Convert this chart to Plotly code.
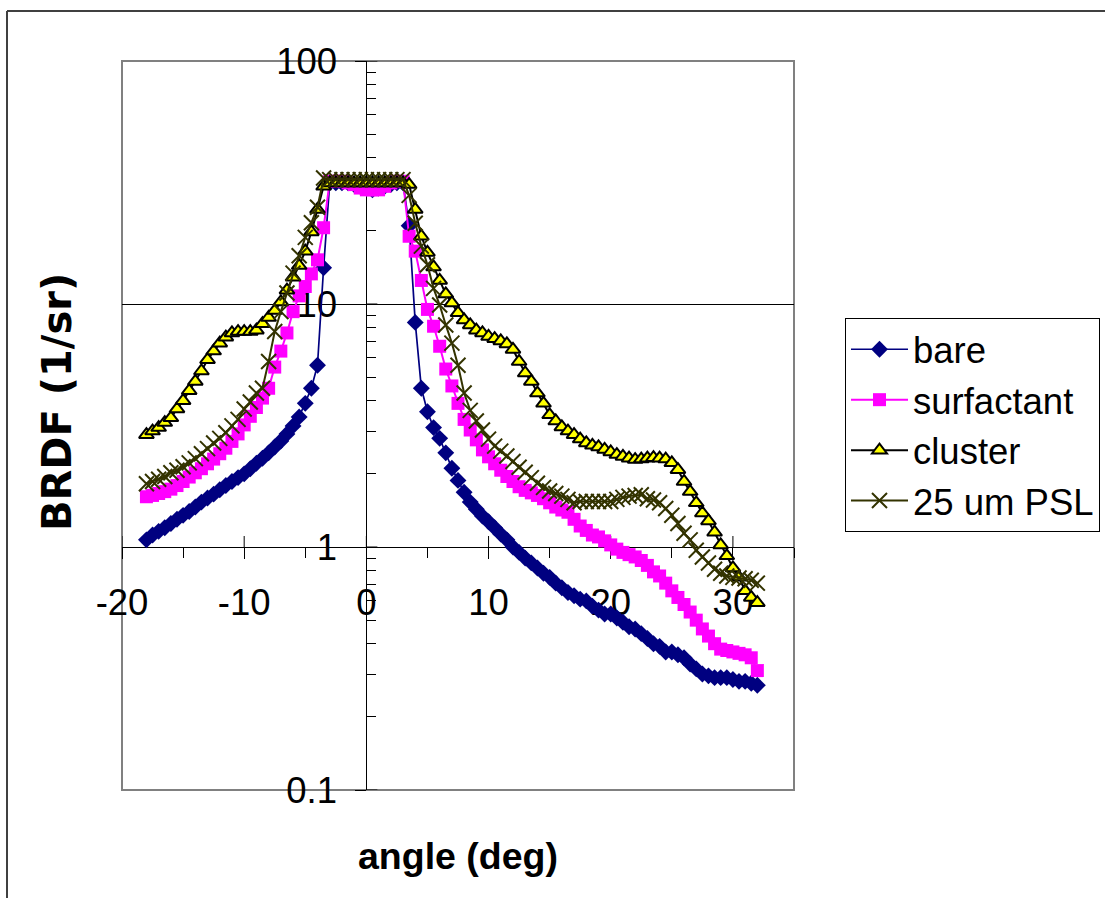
import plotly.graph_objects as go

# ---------------- data ----------------
angle = [-18.0, -17.5, -17.0, -16.5, -16.0, -15.5, -15.0, -14.5, -14.0, -13.5,
         -13.0, -12.5, -12.0, -11.5, -11.0, -10.5, -10.0, -9.5, -9.0, -8.5,
         -8.0, -7.5, -7.0, -6.5, -6.0, -5.5, -5.0, -4.5, -4.0, -3.5,
         -3.0, -2.5, -2.0, -1.5, -1.0, -0.5, 0.0, 0.5, 1.0, 1.5, 2.0, 2.5, 3.0,
         3.5, 4.0, 4.5, 5.0, 5.5, 6.0, 6.5, 7.0, 7.5, 8.0,
         8.5, 9.0, 9.5, 10.0, 10.5, 11.0, 11.5, 12.0, 12.5, 13.0,
         13.5, 14.0, 14.5, 15.0, 15.5, 16.0, 16.5, 17.0, 17.5, 18.0,
         18.5, 19.0, 19.5, 20.0, 20.5, 21.0, 21.5, 22.0, 22.5, 23.0,
         23.5, 24.0, 24.5, 25.0, 25.5, 26.0, 26.5, 27.0, 27.5, 28.0,
         28.5, 29.0, 29.5, 30.0, 30.5, 31.0, 31.5, 32.0]

bare = [1.07, 1.12, 1.16, 1.2, 1.25, 1.30, 1.35, 1.40, 1.46, 1.53,
        1.59, 1.65, 1.72, 1.79, 1.86, 1.93, 2.0, 2.1, 2.21, 2.32,
        2.44, 2.58, 2.73, 2.92, 3.15, 3.43, 3.9, 4.5, 5.6, 14.1,
        31.5, 31.5, 31.5, 31.5, 31, 30.5, 30, 29.5, 30, 30.5, 31, 31.5, 31.5,
        21, 8.4, 4.5, 3.6, 3.1, 2.8, 2.44, 2.11, 1.88, 1.68,
        1.53, 1.43, 1.34, 1.27, 1.2, 1.13, 1.07, 1.0, 0.95, 0.9,
        0.86, 0.82, 0.78, 0.75, 0.71, 0.68, 0.65, 0.63, 0.61, 0.60,
        0.57, 0.55, 0.53, 0.53, 0.51, 0.49, 0.47, 0.46, 0.44, 0.42,
        0.40, 0.39, 0.37, 0.37, 0.36, 0.35, 0.33, 0.315, 0.30, 0.295,
        0.29, 0.29, 0.29, 0.285, 0.28, 0.28, 0.275, 0.27]

surfactant = [1.61, 1.63, 1.66, 1.69, 1.73, 1.79, 1.86, 1.94, 2.02, 2.1,
              2.2, 2.3, 2.42, 2.55, 2.72, 2.92, 3.18, 3.45, 3.75, 4.1,
              4.5, 5.5, 6.4, 7.6, 9.3, 10.8, 11.8, 13.3, 15.2, 20.6,
              32, 32, 32, 31.5, 31, 30, 29.5, 29.5, 29.5, 30.5, 31.5, 32, 32,
              19, 16.5, 12.5, 9.5, 8.1, 6.7, 5.4, 4.6, 3.9, 3.35,
              3.03, 2.76, 2.51, 2.35, 2.2, 2.07, 1.95, 1.86, 1.77, 1.71,
              1.67, 1.63, 1.58, 1.52, 1.46, 1.42, 1.39, 1.30, 1.22, 1.17,
              1.12, 1.10, 1.06, 1.02, 0.98, 0.95, 0.93, 0.91, 0.88, 0.84,
              0.79, 0.76, 0.71, 0.66, 0.62, 0.58, 0.54, 0.50, 0.46, 0.43,
              0.40, 0.38, 0.375, 0.37, 0.365, 0.36, 0.35, 0.31]

cluster = [2.9, 3.0, 3.1, 3.25, 3.4, 3.7, 4.0, 4.4, 4.8, 5.3,
           5.9, 6.4, 6.9, 7.3, 7.6, 7.7, 7.7, 7.7, 7.8, 8.3,
           8.8, 9.4, 10.2, 11.4, 12.9, 14.4, 16.5, 19.8, 24.5, 30.5,
           31.5, 31.5, 31.5, 31.5, 31.5, 31.5, 31.5, 31.5, 31.5, 31.5, 31.5, 31.5, 31.5,
           31, 24.5, 19, 16.3, 14.2, 12.5, 11.0, 10.1, 9.2, 8.6,
           8.2, 7.8, 7.6, 7.35, 7.2, 7.05, 6.85, 6.5, 5.8, 5.2,
           4.8, 4.3, 3.9, 3.5, 3.3, 3.12, 3.0, 2.9, 2.78, 2.68,
           2.62, 2.58, 2.52, 2.46, 2.4, 2.36, 2.32, 2.29, 2.3, 2.32,
           2.33, 2.32, 2.3, 2.22, 2.08, 1.86, 1.69, 1.52, 1.38, 1.28,
           1.15, 1.02, 0.92, 0.82, 0.75, 0.66, 0.62, 0.59]

psl = [1.82, 1.86, 1.9, 1.95, 2.02, 2.07, 2.14, 2.22, 2.31, 2.42,
       2.54, 2.68, 2.8, 2.95, 3.15, 3.35, 3.7, 3.95, 4.3, 4.5,
       5.8, 7.7, 9.3, 11.1, 13.4, 15.8, 18.8, 21.6, 25, 33,
       32.5, 32.5, 32.5, 32.5, 32.5, 32.5, 32.5, 32.5, 32.5, 32.5, 32.5, 32.5, 32.5,
       28, 21.5, 17.3, 14.5, 11.6, 9.9, 8.2, 6.9, 5.6, 4.3,
       3.65, 3.3, 3.03, 2.78, 2.6, 2.48, 2.37, 2.25, 2.13, 2.03,
       1.93, 1.83, 1.76, 1.7, 1.66, 1.62, 1.57, 1.52, 1.54, 1.54,
       1.54, 1.54, 1.54, 1.54, 1.57, 1.6, 1.62, 1.63, 1.64, 1.58,
       1.56, 1.52, 1.44, 1.35, 1.25, 1.14, 1.07, 0.97, 0.91, 0.86,
       0.81, 0.78, 0.76, 0.75, 0.745, 0.74, 0.73, 0.71]

series_names = ["bare", "surfactant", "cluster", "25 um PSL"]

x_major = [-20, -10, 0, 10, 20, 30]
x_minor = [-15, -5, 5, 15, 25, 35]
y_major = [0.1, 1, 10, 100]
y_major_text = ["0.1", "1", "10", "100"]
y_minor = [0.2, 0.3, 0.4, 0.5, 0.6, 0.7, 0.8, 0.9,
           2, 3, 4, 5, 6, 7, 8, 9,
           20, 30, 40, 50, 60, 70, 80, 90]

# ---------------- layout geometry (pixels) ----------------
W, H = 1105, 898
ML, MR, MT, MB = 122, 311, 61, 108
PW, PH = W - ML - MR, H - MT - MB


def px_x(p):
    return (p - ML) / PW


def px_y(p):
    return (H - MB - p) / PH


FONT = "Liberation Sans, Arial, sans-serif"
FS_TICK = 36.5
FS_TITLE = 37.5
FS_LEG = 36.5

fig = go.Figure()

fig.add_trace(go.Scatter(
    x=angle, y=bare, name=series_names[0], mode="lines+markers", legendgroup="g1",
    line=dict(color="#000080", width=1.7),
    marker=dict(symbol="diamond", size=13, color="#000080")))
fig.add_trace(go.Scatter(
    x=angle, y=surfactant, name=series_names[1], mode="lines+markers", legendgroup="g2",
    line=dict(color="#FF00FF", width=2),
    marker=dict(symbol="square", size=13, color="#FF00FF")))
fig.add_trace(go.Scatter(
    x=angle, y=cluster, name=series_names[2], mode="lines+markers", legendgroup="g3",
    line=dict(color="#000000", width=2),
    marker=dict(symbol="triangle-up", size=13, color="#FFFF00",
                line=dict(color="#000000", width=2))))
fig.add_trace(go.Scatter(
    x=angle, y=psl, name=series_names[3], mode="lines+markers", legendgroup="g4",
    line=dict(color="#333300", width=2),
    marker=dict(symbol="x-thin", size=15, color="#333300",
                line=dict(color="#333300", width=2))))

axis_col = "#000000"

fig.update_xaxes(
    range=[-20, 35], anchor="free", position=1 / 3,
    showline=True, linecolor=axis_col, linewidth=1, layer="below traces",
    tickmode="array", tickvals=x_major, ticktext=[str(v) for v in x_major],
    ticks="outside", ticklen=11, tickwidth=1, tickcolor=axis_col,
    tickfont=dict(family=FONT, size=FS_TICK, color="#000"),
    ticklabelstandoff=12,
    minor=dict(tickmode="array", tickvals=x_minor, ticks="outside",
               ticklen=10, tickwidth=1, tickcolor=axis_col, showgrid=False),
    showgrid=False, zeroline=False, fixedrange=True)

fig.update_yaxes(
    type="log", range=[-1, 2], anchor="free", position=20 / 55,
    showline=True, linecolor=axis_col, linewidth=1, layer="below traces",
    tickmode="array", tickvals=y_major, ticktext=y_major_text,
    ticks="outside", ticklen=11, tickwidth=1, tickcolor=axis_col,
    tickfont=dict(family=FONT, size=FS_TICK, color="#000"),
    ticklabelstandoff=11,
    minor=dict(tickmode="array", tickvals=y_minor, ticks="inside",
               ticklen=9, tickwidth=1, tickcolor=axis_col, showgrid=False),
    showgrid=True, gridcolor="#000000", gridwidth=1, zeroline=False, fixedrange=True)

shapes = []
# inner halves of the crossing major ticks
for v in x_major:
    shapes.append(dict(type="line", xref="x", yref="y", ysizemode="pixel", yanchor=1,
                       x0=v, x1=v, y0=0, y1=11, line=dict(color=axis_col, width=1),
                       layer="between"))
for v in y_major:
    shapes.append(dict(type="line", xref="x", yref="y", xsizemode="pixel", xanchor=0,
                       x0=0, x1=11, y0=v, y1=v, line=dict(color=axis_col, width=1),
                       layer="between"))
# plot-area frame
shapes.append(dict(type="rect", xref="paper", yref="paper", x0=0, x1=1, y0=0, y1=1,
                   line=dict(color="#808080", width=2), layer="between"))
# outer chart border (left and top edges visible)
shapes.append(dict(type="line", xref="paper", yref="paper",
                   x0=px_x(7), x1=px_x(7), y0=px_y(11), y1=px_y(910),
                   line=dict(color="#404040", width=2)))
shapes.append(dict(type="line", xref="paper", yref="paper",
                   x0=px_x(7), x1=px_x(1120), y0=px_y(11), y1=px_y(11),
                   line=dict(color="#404040", width=2)))

annotations = [
    dict(text="<b>angle (deg)</b>", xref="paper", yref="paper", x=0.5, y=px_y(856),
         xanchor="center", yanchor="middle", showarrow=False,
         font=dict(family=FONT, size=FS_TITLE, color="#000")),
    dict(text="<b>BRDF (1/sr)</b>", xref="paper", yref="paper", x=px_x(57), y=px_y(402),
         xanchor="center", yanchor="middle", showarrow=False, textangle=-90,
         font=dict(family="DejaVu Sans, Liberation Sans, Arial, sans-serif", size=40,
                   color="#000")),
]

fig.update_layout(
    width=W, height=H,
    margin=dict(l=ML, r=MR, t=MT, b=MB, pad=0, autoexpand=False),
    paper_bgcolor="#FFFFFF", plot_bgcolor="#FFFFFF",
    shapes=shapes, annotations=annotations,
    showlegend=True,
    legend=dict(x=px_x(845), y=px_y(318), xanchor="left", yanchor="top",
                bordercolor="#000000", borderwidth=1, bgcolor="#FFFFFF",
                font=dict(family=FONT, size=FS_LEG, color="#000"),
                itemwidth=57, tracegroupgap=0, traceorder="grouped"),
    font=dict(family=FONT, size=FS_TICK, color="#000"),
)

fig.write_html("out.html")
